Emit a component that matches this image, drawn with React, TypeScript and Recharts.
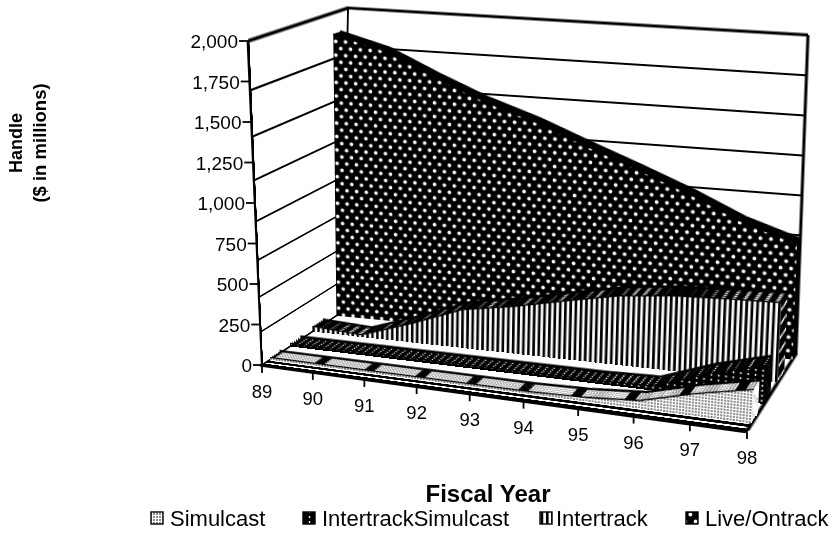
import React from 'react'
import { AreaChart, Area, LineChart, Line, XAxis, YAxis, ReferenceLine } from 'recharts'

const years = ['89', '90', '91', '92', '93', '94', '95', '96', '97', '98']
const simulcast = [15, 15, 15, 15, 15, 15, 25, 50, 140, 210]
const intertrackSimulcast = [20, 20, 20, 20, 20, 20, 20, 30, 150, 240]
const intertrack = [35, 15, 125, 250, 305, 375, 440, 475, 490, 500]
const liveOntrack = [1850, 1765, 1618, 1484, 1376, 1246, 1121, 990, 842, 736]
const yTicks = [0, 250, 500, 750, 1000, 1250, 1500, 1750, 2000]

const table = years.map((year, i) => ({
  year,
  simulcast: simulcast[i],
  intertrackSimulcast: intertrackSimulcast[i],
  intertrack: intertrack[i],
  live: liveOntrack[i],
}))

type Pt = [number, number]
type Quad = [Pt, Pt, Pt, Pt] // top-left, top-right, bottom-right, bottom-left

// corners of the 3D box as they land on the page
const FLT: Pt = [248, 41]
const FLB: Pt = [262, 365]
const FRT: Pt = [766, 88]
const FRB: Pt = [747, 431]
const BLT: Pt = [348, 8]
const BLB: Pt = [342, 312]
const BRT: Pt = [808, 35]
const BRB: Pt = [796, 354]

const SW = 480
const SH = 320

const lerp = (a: Pt, b: Pt, t: number): Pt => [a[0] + (b[0] - a[0]) * t, a[1] + (b[1] - a[1]) * t]

function homography([p0, p1, p2, p3]: Quad) {
  const dx1 = p1[0] - p2[0]
  const dx2 = p3[0] - p2[0]
  const sx = p0[0] - p1[0] + p2[0] - p3[0]
  const dy1 = p1[1] - p2[1]
  const dy2 = p3[1] - p2[1]
  const sy = p0[1] - p1[1] + p2[1] - p3[1]
  const den = dx1 * dy2 - dx2 * dy1
  const g = (sx * dy2 - dx2 * sy) / den
  const h = (dx1 * sy - sx * dy1) / den
  return {
    a: p1[0] - p0[0] + g * p1[0],
    b: p3[0] - p0[0] + h * p3[0],
    c: p0[0],
    d: p1[1] - p0[1] + g * p1[1],
    e: p3[1] - p0[1] + h * p3[1],
    f: p0[1],
    g,
    h,
  }
}

function project(quad: Quad, u: number, v: number): Pt {
  const m = homography(quad)
  const w = m.g * u + m.h * v + 1
  return [(m.a * u + m.b * v + m.c) / w, (m.d * u + m.e * v + m.f) / w]
}

const floorQuad: Quad = [BLB, BRB, FRB, FLB]
const leftQuad: Quad = [FLT, BLT, BLB, FLB]
const backQuad: Quad = [BLT, BRT, BRB, BLB]
const depthQuad = (t: number, lean = 0): Quad => {
  const tl = lerp(FLT, BLT, t)
  return [[tl[0] - lean, tl[1]], lerp(FRT, BRT, t), lerp(FRB, BRB, t), lerp(FLB, BLB, t)]
}

function Sheet({ quad, children }: { quad: Quad; children: React.ReactNode }) {
  const m = homography(quad)
  const cells = [m.a / SW, m.d / SW, 0, m.g / SW, m.b / SH, m.e / SH, 0, m.h / SH, 0, 0, 1, 0, m.c, m.f, 0, 1]
  return (
    <div style={{ position: 'absolute', left: 0, top: 0, width: SW, height: SH, transformOrigin: '0 0', transform: `matrix3d(${cells.join(',')})` }}>
      <AreaChart width={SW} height={SH} data={table} margin={{ top: 0, right: 0, bottom: 0, left: 0 }}>
        <XAxis dataKey="year" hide />
        <YAxis hide domain={[0, 2000]} allowDataOverflow />
        {children}
      </AreaChart>
    </div>
  )
}

// one ribbon: slices from the back of its depth band, patterned face in front
function Ribbon({ dataKey, front, back, top, face, edge = '#000', lean = 0 }: { dataKey: string; front: number; back: number; top: string; face: string; edge?: string; lean?: number }) {
  const slices = [1, 0.8, 0.6, 0.4, 0.2]
  return (
    <>
      {slices.map((s) => (
        <Sheet key={s} quad={depthQuad(front + (back - front) * s, lean)}>
          <Area dataKey={dataKey} type="linear" isAnimationActive={false} fill={top} fillOpacity={1} stroke={s === 1 ? '#000' : edge} strokeWidth={s === 1 ? 2.5 : 0.6} />
        </Sheet>
      ))}
      <Sheet quad={depthQuad(front, lean)}>
        <Area dataKey={dataKey} type="linear" isAnimationActive={false} fill={face} fillOpacity={1} stroke="#000" strokeWidth={1.4} />
      </Sheet>
    </>
  )
}

function XTick({ x, payload }: any) {
  const [px, py] = project(depthQuad(0), (x - FLB[0]) / (FRB[0] - FLB[0]), 1)
  return (
    <g>
      <line x1={px} y1={py} x2={px} y2={py + 8} stroke="#000" strokeWidth={1.8} />
      <text x={px} y={py + 33} textAnchor="middle" fontSize={18.5} fill="#000">{payload.value}</text>
    </g>
  )
}

function YTick({ y, payload }: any) {
  const [px, py] = lerp(FLB, FLT, (FLB[1] - y) / (FLB[1] - FLT[1]))
  return (
    <g>
      <line x1={px - 9} y1={py} x2={px} y2={py} stroke="#000" strokeWidth={1.8} />
      <text x={px - 10} y={py + 7} textAnchor="end" fontSize={19} fill="#000">{payload.value.toLocaleString('en-US')}</text>
    </g>
  )
}

const legendItems = [
  { name: 'Simulcast', fill: 'url(#simFace)', box: 151, text: 170 },
  { name: 'IntertrackSimulcast', fill: 'url(#itsFace)', box: 303, text: 322 },
  { name: 'Intertrack', fill: 'url(#itFace)', box: 540, text: 556 },
  { name: 'Live/Ontrack', fill: 'url(#liveFace)', box: 686, text: 705 },
]

export default function App() {
  return (
    <div style={{ position: 'absolute', left: 0, top: 0, width: 838, height: 558, overflow: 'hidden', background: '#fff', fontFamily: '"Liberation Sans", Arial, sans-serif' }}>
      <style>{'.recharts-surface{overflow:visible}'}</style>
      <svg width={0} height={0} style={{ position: 'absolute' }}>
        <defs>
          <pattern id="liveFace" width={10.5} height={14} patternUnits="userSpaceOnUse">
            <rect width={10.5} height={14} fill="#000" />
            <circle cx={2.6} cy={3.5} r={1.9} fill="#fff" />
            <circle cx={7.9} cy={10.5} r={1.9} fill="#fff" />
          </pattern>
          <pattern id="itFace" width={5.3} height={6} patternUnits="userSpaceOnUse">
            <rect width={5.3} height={6} fill="#fff" />
            <rect width={2.7} height={6} fill="#000" />
          </pattern>
          <pattern id="itsFace" width={7} height={5} patternUnits="userSpaceOnUse">
            <rect width={7} height={5} fill="#000" />
            <circle cx={1.5} cy={2} r={0.9} fill="#fff" />
          </pattern>
          <pattern id="simFace" width={3} height={3} patternUnits="userSpaceOnUse">
            <rect width={3} height={3} fill="#fff" />
            <circle cx={1} cy={1} r={0.8} fill="#000" />
          </pattern>
          <pattern id="simTop" width={52} height={8} patternUnits="userSpaceOnUse">
            <rect width={52} height={8} fill="#000" />
            <rect x={4} y={0} width={42} height={8} fill="url(#simFace)" />
          </pattern>
        </defs>
      </svg>

      <Sheet quad={backQuad}>
        {yTicks.map((v) => <ReferenceLine key={v} y={v} stroke="#000" strokeWidth={v === 2000 ? 3 : 1.8} />)}
        <ReferenceLine x="89" stroke="#000" strokeWidth={2} />
        <ReferenceLine x="98" stroke="#000" strokeWidth={3} />
      </Sheet>
      <Sheet quad={leftQuad}>
        {yTicks.map((v) => <ReferenceLine key={v} y={v} stroke="#000" strokeWidth={v === 2000 ? 3 : 1.8} />)}
        <ReferenceLine x="89" stroke="#000" strokeWidth={12} />
      </Sheet>
      <Sheet quad={floorQuad}>
        <ReferenceLine y={0} stroke="#000" strokeWidth={16} />
        <ReferenceLine y={120} stroke="#000" strokeWidth={10} />
        <ReferenceLine x="89" stroke="#000" strokeWidth={3} />
        <ReferenceLine x="98" stroke="#000" strokeWidth={3} />
      </Sheet>

      <Ribbon dataKey="live" front={0.93} back={1} top="#000" face="url(#liveFace)" lean={8} />
      <Ribbon dataKey="intertrack" front={0.63} back={0.76} top="url(#liveFace)" face="url(#itFace)" />
      <Ribbon dataKey="intertrackSimulcast" front={0.35} back={0.48} top="url(#itsFace)" edge="none" face="url(#itsFace)" />
      <Ribbon dataKey="simulcast" front={0.1} back={0.22} top="url(#simTop)" edge="none" face="url(#simFace)" />

      <div style={{ position: 'absolute', left: 0, top: 0 }}>
        <LineChart width={838} height={558} data={table} margin={{ top: FLT[1], left: FLB[0] - 1, right: 838 - FRB[0], bottom: 558 - FLB[1] - 1 }}>
          <XAxis dataKey="year" height={1} interval={0} axisLine={false} tickLine={false} tick={<XTick />} />
          <YAxis width={1} domain={[0, 2000]} ticks={yTicks} interval={0} axisLine={false} tickLine={false} tick={<YTick />} />
          <Line dataKey="live" stroke="none" dot={false} isAnimationActive={false} />
        </LineChart>
      </div>

      <svg width={838} height={558} style={{ position: 'absolute', left: 0, top: 0 }}>
        <text x={488} y={502} textAnchor="middle" fontSize={24} fontWeight="bold">Fiscal Year</text>
        <text transform="translate(22,143) rotate(-90)" textAnchor="middle" fontSize={18} fontWeight="bold">Handle</text>
        <text transform="translate(46,143) rotate(-90)" textAnchor="middle" fontSize={18.5} fontWeight="bold">($ in millions)</text>
        {legendItems.map((it) => (
          <g key={it.name}>
            <rect x={it.box} y={512} width={12} height={12} fill={it.fill} stroke="#000" strokeWidth={1.4} />
            <text x={it.text} y={526} fontSize={22}>{it.name}</text>
          </g>
        ))}
      </svg>
    </div>
  )
}
